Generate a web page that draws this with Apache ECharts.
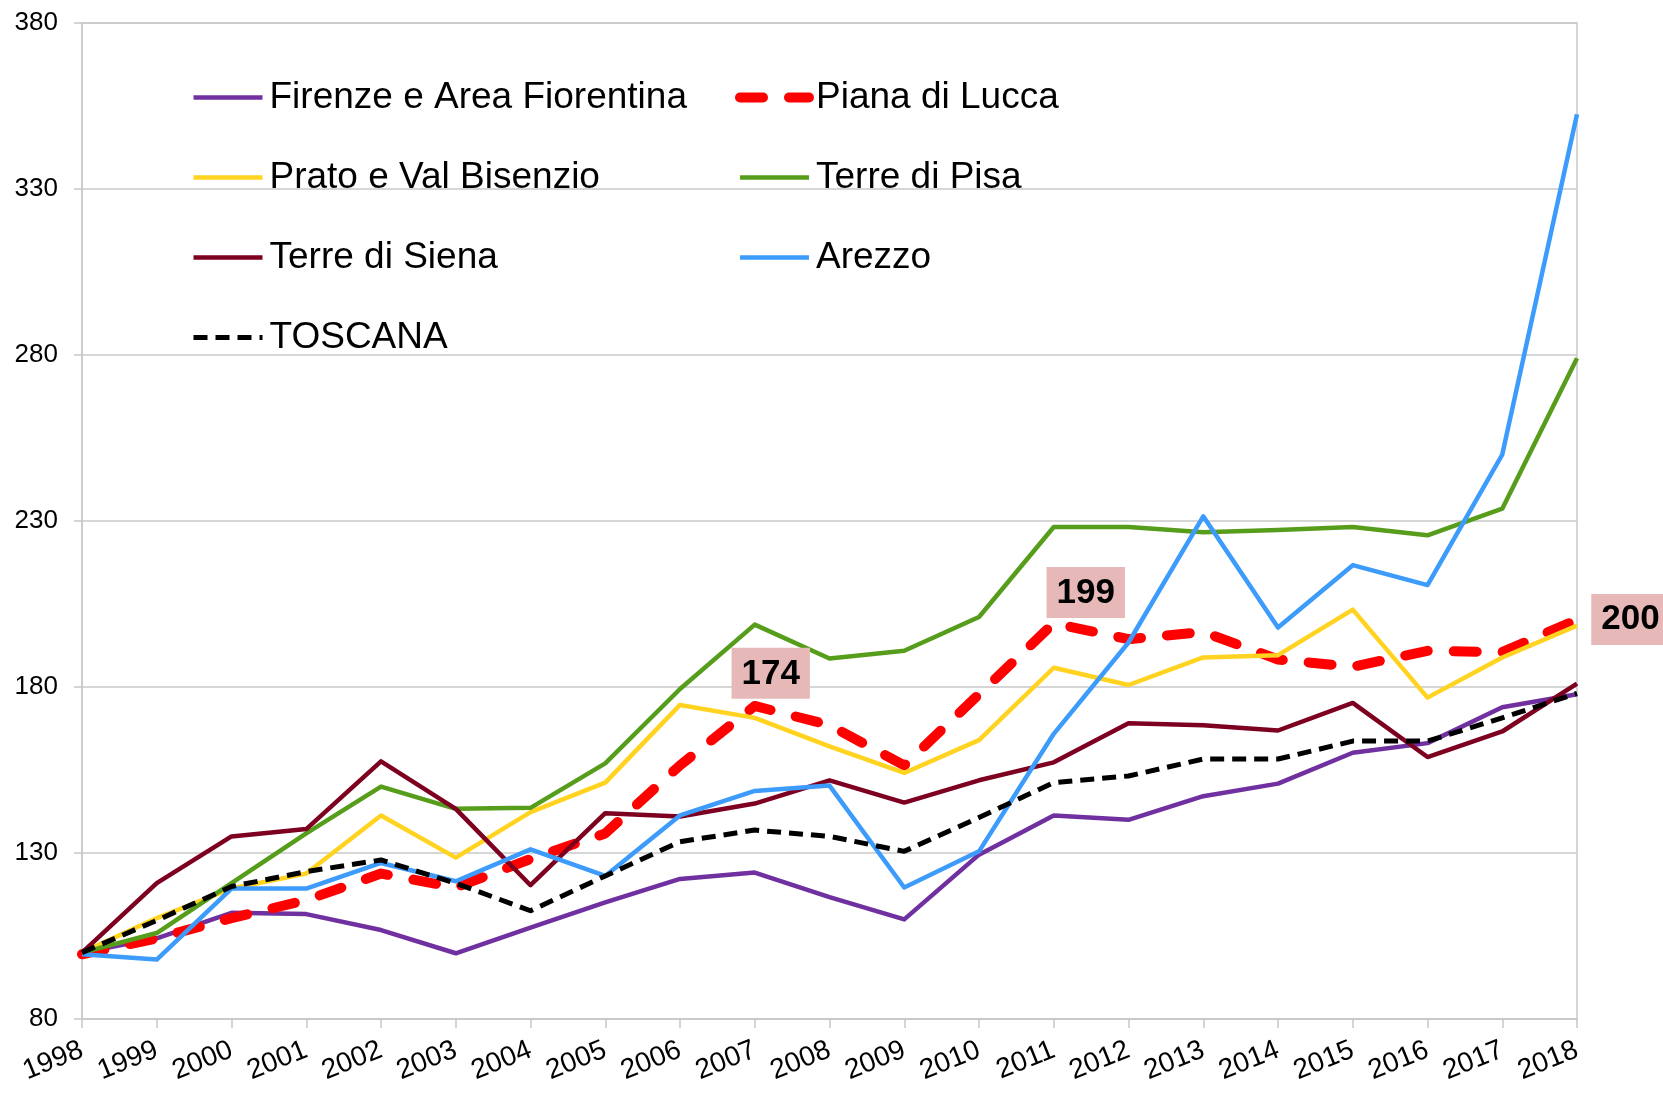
<!DOCTYPE html>
<html>
<head>
<meta charset="utf-8">
<title>Indice 1998-2018</title>
<script src="https://cdn.jsdelivr.net/npm/echarts@6/dist/echarts.min.js"></script>
<style>
	html, body { margin:0; padding:0; background:#fff; }
	#chart { width:1663px; height:1093px; }
</style>
</head>
<body>
<div id="chart"></div>
<script>
var years = ['1998','1999','2000','2001','2002','2003','2004','2005','2006','2007','2008',
	'2009','2010','2011','2012','2013','2014','2015','2016','2017','2018'];

var firenze = [100,104.3,112,111.6,106.8,99.8,107.5,115.1,122.2,124.1,116.7,110,129.5,141.3,140,147.1,150.9,160.2,163.1,173.9,177.8];
var lucca   = [99.5,104.3,110.4,115.8,123.8,119.6,128.2,135.9,156.4,174.3,168.5,156.4,177.8,199.2,194.4,196.6,188.3,186.1,190.9,190.5,200.3];
var prato   = [100,110.4,119.3,123.8,141.3,128.6,142.3,151.2,174.6,170.7,162.1,154.1,164,185.8,180.6,188.9,189.6,203.3,176.8,188.9,198.5];
var pisa    = [100,105.9,120.9,135.9,150,143.3,143.6,157,179.4,198.8,188.6,190.9,201.1,228.2,228.2,226.6,227.3,228.2,225.7,233.7,279];
var siena   = [100,120.9,135,137.2,157.6,143.3,120.3,142,141,144.9,151.9,145.2,151.9,157.3,169.1,168.5,166.9,175.2,158.9,166.6,181];
var arezzo  = [99.5,97.9,119.3,119.3,127,121.5,131.1,123.1,141.3,148.7,150.3,119.6,130.5,165.9,193.4,231.4,197.9,216.7,210.7,250,352.5];
var toscana = [100,109.7,119.9,124.4,127.9,120.9,112.6,123.1,133.4,136.9,135,130.5,140.7,151.2,153.2,158.3,158.3,163.7,163.7,170.7,178.1];

// points of Piana di Lucca that carry a value box
var luccaLabelIdx = [9, 13, 20];

var FONT = '"Liberation Sans", Arial, sans-serif';

function solid(name, data, color){
	return {
		name: name,
		type: 'line',
		data: data,
		symbol: 'none',
		lineStyle: { color: color, width: 4.5, join: 'round' },
		itemStyle: { color: color },
		emphasis: { disabled: true }
	};
}

function luccaData(){
	var labelCfg = {
		9:  { position: 'top', offset: [16, -2] },
		13: { position: 'top', offset: [32, 0] },
		20: { position: 'right', distance: 14 }
	};
	return lucca.map(function(v, i){
		if(luccaLabelIdx.indexOf(i) < 0){ return v; }
		var c = labelCfg[i];
		return {
			value: v,
			label: {
				show: true,
				position: c.position,
				offset: c.offset || [0, 0],
				distance: c.distance || 5,
				formatter: function(p){ return Math.floor(p.value); },
				fontFamily: FONT,
				fontSize: 35,
				fontWeight: 'bold',
				color: '#000',
				backgroundColor: '#e6b9b8',
				padding: [9, 10, 7, 10]
			}
		};
	});
}

var series = [
	solid('Firenze e Area Fiorentina', firenze, '#7030a0'),
	{
		name: 'Piana di Lucca',
		type: 'line',
		data: luccaData(),
		symbol: 'circle',
		symbolSize: 0.5,
		showSymbol: true,
		showAllSymbol: true,
		lineStyle: { color: '#ff0000', width: 10, type: [23, 26], cap: 'round', join: 'round' },
		itemStyle: { color: '#ff0000' },
		emphasis: { disabled: true }
	},
	solid('Prato e Val Bisenzio', prato, '#ffd320'),
	solid('Terre di Pisa', pisa, '#579d1c'),
	solid('Terre di Siena', siena, '#7e0021'),
	solid('Arezzo', arezzo, '#3d9cfb'),
	{
		name: 'TOSCANA',
		type: 'line',
		data: toscana,
		symbol: 'none',
		lineStyle: { color: '#000', width: 5, type: [14, 8], join: 'round' },
		itemStyle: { color: '#000' },
		emphasis: { disabled: true }
	}
];

function legendCol(left, names){
	return {
		orient: 'vertical',
		left: left,
		top: 79,
		padding: 0,
		itemWidth: 69,
		itemHeight: 14,
		itemGap: 43,
		selectedMode: false,
		itemStyle: { opacity: 0 },
		lineStyle: { width: 'inherit' },
		data: names,
		textStyle: { fontFamily: FONT, fontSize: 37, color: '#000', lineHeight: 37, padding: [0, 0, 0, 2] }
	};
}

var option = {
	backgroundColor: '#fff',
	animation: false,
	textStyle: { fontFamily: FONT },
	legend: [
		legendCol(191, ['Firenze e Area Fiorentina', 'Prato e Val Bisenzio', 'Terre di Siena', 'TOSCANA']),
		legendCol(735, ['Piana di Lucca', 'Terre di Pisa', 'Arezzo'])
	],
	grid: {
		left: 82, right: 86, top: 23, bottom: 74,
		show: true, borderColor: '#c8c8c8', borderWidth: 1.5,
		containLabel: false
	},
	xAxis: {
		type: 'category',
		data: years,
		boundaryGap: false,
		axisLine: { lineStyle: { color: '#c8c8c8', width: 1.5 } },
		axisTick: { show: true, length: 9, alignWithLabel: true, lineStyle: { color: '#c8c8c8', width: 1.5 } },
		axisLabel: { rotate: 22, margin: 30, fontFamily: FONT, fontSize: 28, color: '#000', interval: 0 },
		splitLine: { show: false }
	},
	yAxis: {
		type: 'value',
		min: 80, max: 380, interval: 50,
		axisLine: { show: true, lineStyle: { color: '#c8c8c8', width: 1.5 } },
		axisTick: { show: true, length: 8, lineStyle: { color: '#c8c8c8', width: 1.5 } },
		axisLabel: {
			margin: 24, color: '#000',
			formatter: '{v|{value}}',
			rich: { v: { fontFamily: FONT, fontSize: 26, color: '#000' } }
		},
		splitLine: { lineStyle: { color: '#c8c8c8', width: 1.5 } }
	},
	series: series
};

var chart = echarts.init(document.getElementById('chart'));
chart.setOption(option);
</script>
</body>
</html>
